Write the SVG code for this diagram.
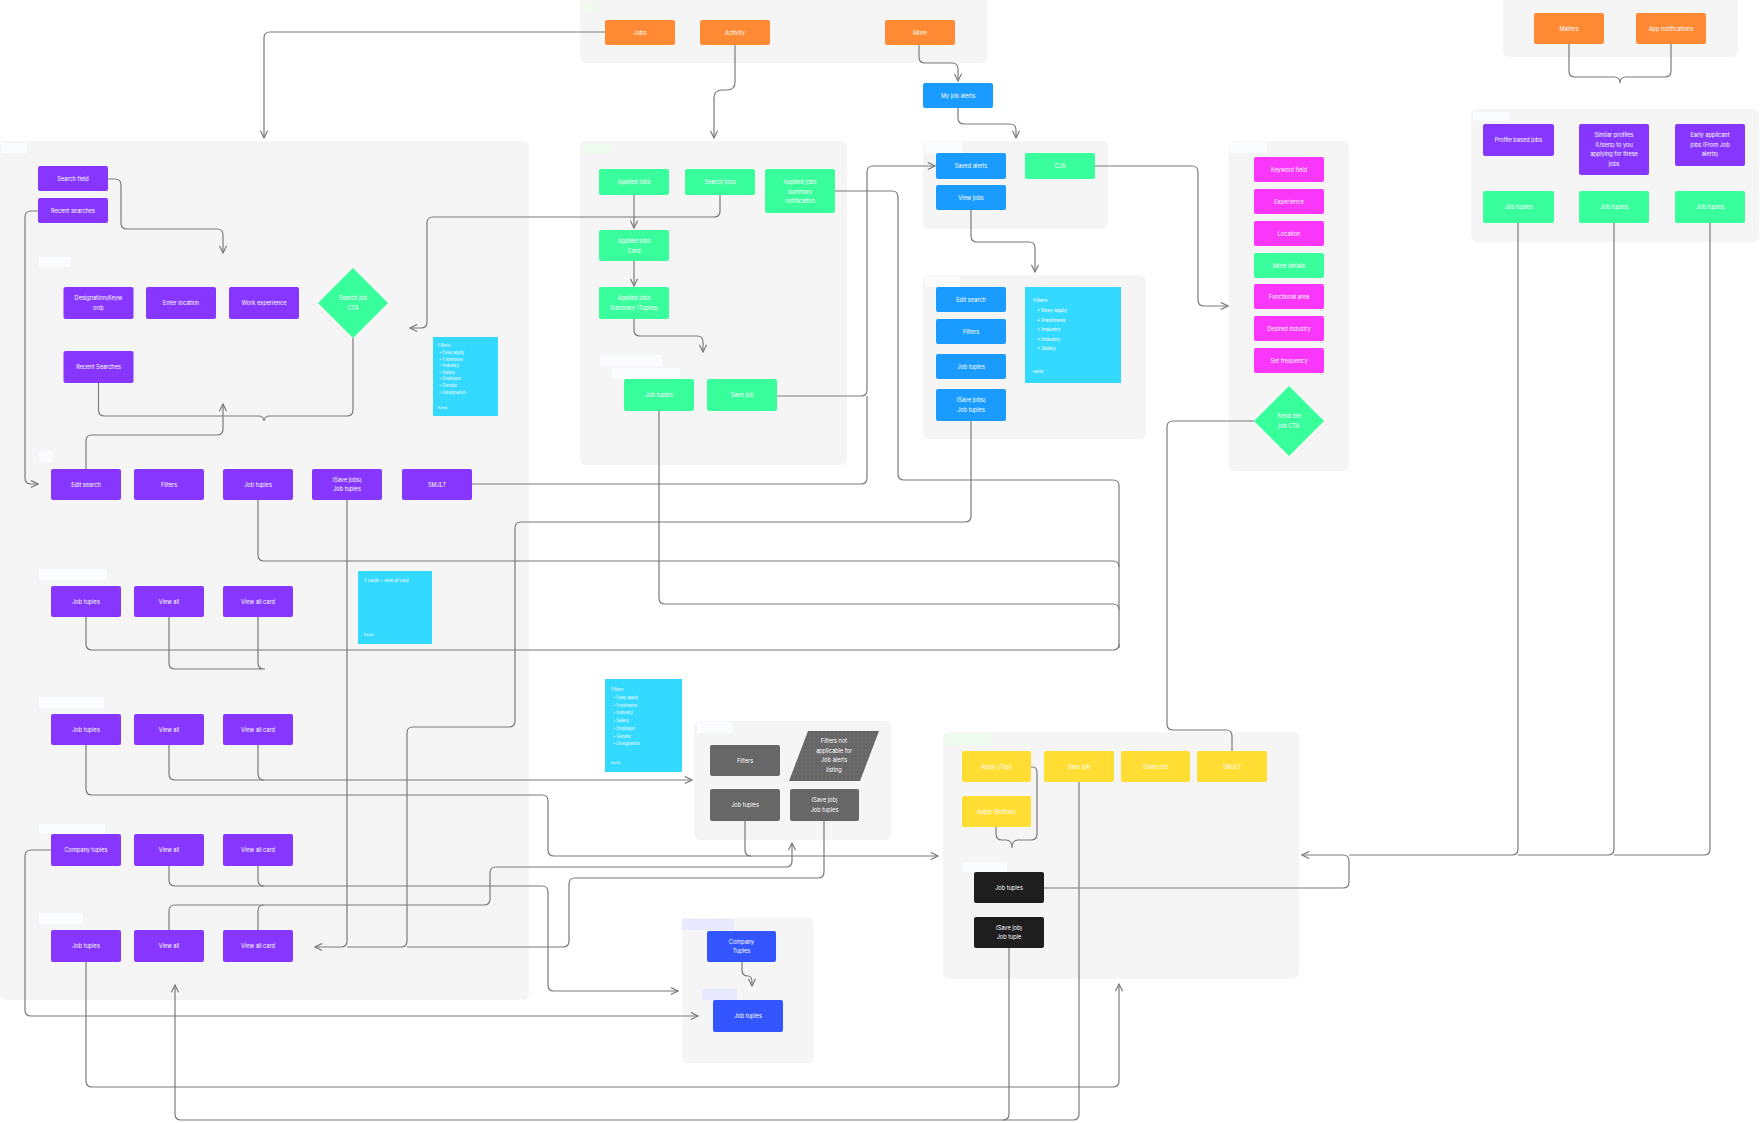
<svg xmlns="http://www.w3.org/2000/svg" width="1760" height="1123" viewBox="0 0 1760 1123">
<defs>
<style>
.p{fill:#f5f5f5}
.tg{fill:#fbfcff}
.n{rx:2}
.t{font-family:Inter,"Liberation Sans",sans-serif;font-size:5.6px;fill:#fff;text-anchor:middle}
.s{font-family:Inter,"Liberation Sans",sans-serif;font-size:4.2px;fill:#fff}
.c{fill:none;stroke:#7a7a7a;stroke-width:1.2}
.pu{fill:#8636ff}.gr{fill:#38ff9c}.or{fill:#ff8a33}.bl{fill:#1a9bff}.pk{fill:#f936f9}.ye{fill:#ffdd33}.bk{fill:#1e1e1e}.gy{fill:#676767}.cb{fill:#3355ff}.cy{fill:#33d9ff}
</style>
<marker id="a" viewBox="0 0 10 10" refX="9" refY="5" markerWidth="9" markerHeight="9" orient="auto-start-reverse" markerUnits="userSpaceOnUse"><path d="M1,1 L9,5 L1,9" fill="none" stroke="#7a7a7a" stroke-width="1.3"/></marker>
<pattern id="dots" width="4" height="4" patternUnits="userSpaceOnUse"><rect width="4" height="4" fill="#676767"/><circle cx="2" cy="2" r="0.5" fill="#8a8a8a"/></pattern>
</defs>
<rect width="1760" height="1123" fill="#fff"/>

<g id="panels">
<rect class="p" x="580" y="-6" width="407" height="69" rx="6"/>
<rect x="583" y="2" width="14" height="10" fill="#eefbee"/>
<rect class="p" x="1503" y="-6" width="235" height="63" rx="6"/>
<rect class="p" x="1471" y="109" width="288" height="133" rx="6"/>
<rect x="1473" y="112" width="36" height="9" class="tg"/>
<rect class="p" x="0" y="141" width="529" height="859" rx="6"/>
<rect x="2" y="143" width="25" height="10" class="tg"/>
<rect x="39" y="257" width="31" height="10" class="tg"/>
<rect x="39" y="451" width="14" height="11" class="tg"/>
<rect x="39" y="569" width="68" height="11" class="tg"/>
<rect x="39" y="697" width="65" height="11" class="tg"/>
<rect x="39" y="824" width="66" height="10" class="tg"/>
<rect x="39" y="913" width="44" height="11" class="tg"/>
<rect class="p" x="580" y="141" width="267" height="324" rx="6"/>
<rect x="583" y="144" width="29" height="10" fill="#eefbee"/>
<rect x="600" y="355" width="62" height="11" class="tg"/>
<rect x="612" y="368" width="68" height="11" class="tg"/>
<rect class="p" x="923" y="141" width="185" height="88" rx="6"/>
<rect x="925" y="142" width="37" height="11" class="tg"/>
<rect class="p" x="923" y="275" width="223" height="164" rx="6"/>
<rect x="925" y="277" width="35" height="10" class="tg"/>
<rect class="p" x="1229" y="141" width="120" height="330" rx="6"/>
<rect x="1230" y="142" width="37" height="11" class="tg"/>
<rect class="p" x="694" y="721" width="197" height="119" rx="6"/>
<rect x="697" y="722" width="36" height="11" class="tg"/>
<rect class="p" x="943" y="732" width="356" height="247" rx="6"/>
<rect x="945" y="733" width="47" height="12" fill="#eefbee"/>
<rect x="963" y="862" width="44" height="10" class="tg"/>
<rect class="p" x="682" y="918" width="132" height="145" rx="6"/>
<rect x="682" y="919" width="52" height="11" fill="#e8e8ff"/>
<rect x="702" y="989" width="35" height="11" fill="#e8e8ff"/>
</g>

<g id="connectors">
<path class="c" d="M605,32 H270 Q264,32 264,38 V138" marker-end="url(#a)"/>
<path class="c" d="M735,45 V82 Q735,90 727,90 H722 Q714,90 714,98 V138" marker-end="url(#a)"/>
<path class="c" d="M919,45 V57 Q919,63 925,63 H952 Q958,63 958,69 V81" marker-end="url(#a)"/>
<path class="c" d="M958,108 V118 Q958,124 964,124 H1010 Q1016,124 1016,130 V138" marker-end="url(#a)"/>
<path class="c" d="M108,179 H115 Q121,179 121,185 V223 Q121,229 127,229 H217 Q223,229 223,235 V253" marker-end="url(#a)"/>
<path class="c" d="M38,211 H31 Q25,211 25,217 V478 Q25,484 31,484 H38" marker-end="url(#a)"/>
<path class="c" d="M98.5,383 V410 Q98.5,416 104.5,416 H258 Q264,416 264,421 M353,338 V410 Q353,416 347,416 H270 Q264,416 264,421"/>
<path class="c" d="M86,469 V441 Q86,435 92,435 H217 Q223,435 223,429 V404" marker-end="url(#a)"/>
<path class="c" d="M720,195 V211 Q720,217 714,217 H433 Q427,217 427,223 V322 Q427,328 421,328 H410" marker-end="url(#a)"/>
<path class="c" d="M634,195 V228" marker-end="url(#a)"/>
<path class="c" d="M634,261 V286" marker-end="url(#a)"/>
<path class="c" d="M634,319 V330 Q634,336 640,336 H697 Q703,336 703,342 V352" marker-end="url(#a)"/>
<path class="c" d="M835,191 H892 Q898,191 898,197 V474 Q898,480 904,480 H1113 Q1119,480 1119,486 V648"/>
<path class="c" d="M777,396 H861 Q867,396 867,390 V172 Q867,166 873,166 H935" marker-end="url(#a)"/>
<path class="c" d="M471,484 H861 Q867,484 867,478 V396"/>
<path class="c" d="M971,210 V236 Q971,242 977,242 H1029 Q1035,242 1035,248 V272" marker-end="url(#a)"/>
<path class="c" d="M1095,166 H1192 Q1198,166 1198,172 V300 Q1198,306 1204,306 H1228" marker-end="url(#a)"/>
<path class="c" d="M1254,421 H1173 Q1167,421 1167,427 V724 Q1167,730 1173,730 H1226 Q1232,730 1232,736 V751"/>
<path class="c" d="M258,500 V555 Q258,561 264,561 H1113 Q1119,561 1119,567"/>
<path class="c" d="M659,411 V598 Q659,604 665,604 H1113 Q1119,604 1119,610"/>
<path class="c" d="M86,617 V644 Q86,650 92,650 H1113 Q1119,650 1119,644"/>
<path class="c" d="M347,500 V941 Q347,947 341,947 H315" marker-end="url(#a)"/>
<path class="c" d="M971,421 V516 Q971,522 965,522 H521 Q515,522 515,528 V721 Q515,727 509,727 H413 Q407,727 407,733 V941 Q407,947 401,947 H347"/>
<path class="c" d="M824,821 V872 Q824,878 818,878 H575 Q569,878 569,884 V941 Q569,947 563,947 H407"/>
<path class="c" d="M169,617 V663 Q169,669 175,669 H265 M258,617 V663 Q258,669 264,669 H265"/>
<path class="c" d="M86,745 V789 Q86,795 92,795 H542 Q548,795 548,801 V850 Q548,856 554,856 H938" marker-end="url(#a)"/>
<path class="c" d="M745,821 V850 Q745,856 751,856"/>
<path class="c" d="M169,745 V774 Q169,780 175,780 H692" marker-end="url(#a)"/>
<path class="c" d="M258,745 V774 Q258,780 264,780"/>
<path class="c" d="M51,850 H31 Q25,850 25,856 V1010 Q25,1016 31,1016 H698" marker-end="url(#a)"/>
<path class="c" d="M169,866 V880 Q169,886 175,886 H542 Q548,886 548,892 V985 Q548,991 554,991 H678" marker-end="url(#a)"/>
<path class="c" d="M258,866 V880 Q258,886 264,886"/>
<path class="c" d="M169,930 V911 Q169,905 175,905 H484 Q490,905 490,899 V873 Q490,867 496,867 H786 Q792,867 792,861 V843" marker-end="url(#a)"/>
<path class="c" d="M258,930 V911 Q258,905 264,905"/>
<path class="c" d="M86,962 V1081 Q86,1087 92,1087 H1113 Q1119,1087 1119,1081 V984" marker-end="url(#a)"/>
<path class="c" d="M1079,782 V1114 Q1079,1120 1073,1120 H181 Q175,1120 175,1114 V985" marker-end="url(#a)"/>
<path class="c" d="M1009,948 V1114 Q1009,1120 1003,1120"/>
<path class="c" d="M1044,888 H1343 Q1349,888 1349,882 V861 Q1349,855 1343,855 H1302" marker-end="url(#a)"/>
<path class="c" d="M1518,223 V849 Q1518,855 1512,855 H1349"/>
<path class="c" d="M1614,223 V849 Q1614,855 1608,855 H1518"/>
<path class="c" d="M1710,223 V849 Q1710,855 1704,855 H1614"/>
<path class="c" d="M1569,44 V71 Q1569,77 1575,77 H1614 Q1620,77 1620,83 M1671,44 V71 Q1671,77 1665,77 H1626 Q1620,77 1620,83"/>
<path class="c" d="M742,962 V970 Q742,976 748,976 Q752,976 752,982 V986" marker-end="url(#a)"/>
<path class="c" d="M1031,767 H1033 Q1037,767 1037,773 V834 Q1037,840 1031,840 H1018 Q1012,840 1012,848 M996,827 V834 Q996,840 1002,840 H1006 Q1012,840 1012,848"/>
</g>

<g id="n-jobs"><rect class="n or" x="605" y="20" width="70" height="25"/><text class="t" x="640" y="34.5">Jobs</text></g>
<g id="n-activity"><rect class="n or" x="700" y="20" width="70" height="25"/><text class="t" x="735" y="34.5">Activity</text></g>
<g id="n-more"><rect class="n or" x="885" y="20" width="70" height="25"/><text class="t" x="920" y="34.5">More</text></g>
<g id="n-mailers"><rect class="n or" x="1534" y="13" width="70" height="31"/><text class="t" x="1569" y="30.5">Mailers</text></g>
<g id="n-appnotif"><rect class="n or" x="1636" y="13" width="70" height="31"/><text class="t" x="1671" y="30.5">App notifications</text></g>
<g id="n-myjobalerts"><rect class="n bl" x="923" y="83" width="70" height="25"/><text class="t" x="958" y="97.5">My job alerts</text></g>

<g id="n-searchfield"><rect class="n pu" x="38" y="166" width="70" height="25"/><text class="t" x="73" y="180.5">Search field</text></g>
<g id="n-recentsearches"><rect class="n pu" x="38" y="198" width="70" height="25"/><text class="t" x="73" y="212.5">Recent searches</text></g>
<g id="n-designation"><rect class="n pu" x="63.5" y="287" width="70" height="32"/><text class="t" x="98.5" y="300"><tspan x="98.5">Designation(Keyw</tspan><tspan x="98.5" dy="9.5">ord)</tspan></text></g>
<g id="n-enterlocation"><rect class="n pu" x="146" y="287" width="70" height="32"/><text class="t" x="181" y="305">Enter location</text></g>
<g id="n-workexp"><rect class="n pu" x="229" y="287" width="70" height="32"/><text class="t" x="264" y="305">Work experience</text></g>
<g id="n-searchcta"><path class="gr" d="M353,268 L388,303 L353,338 L318,303 Z"/><text class="t" x="353" y="300"><tspan x="353">Search job</tspan><tspan x="353" dy="9.5">CTA</tspan></text></g>
<g id="n-recentsearches2"><rect class="n pu" x="63.5" y="351" width="70" height="32"/><text class="t" x="98.5" y="369">Recent Searches</text></g>
<g id="n-note1"><rect class="cy" x="433" y="337" width="65" height="79"/><text class="s" x="438" y="347">Filters</text><text class="s" x="439" y="354"><tspan x="439">•  Easy apply</tspan><tspan x="439" dy="6.6">•  Freshness</tspan><tspan x="439" dy="6.6">•  Industry</tspan><tspan x="439" dy="6.6">•  Salary</tspan><tspan x="439" dy="6.6">•  Employer</tspan><tspan x="439" dy="6.6">•  Gender</tspan><tspan x="439" dy="6.6">•  Designation</tspan></text><text class="s" x="438" y="409" style="font-size:3.4px">Kartik</text></g>

<g id="n-editsearch"><rect class="n pu" x="51" y="469" width="70" height="31"/><text class="t" x="86" y="486.5">Edit search</text></g>
<g id="n-filters"><rect class="n pu" x="134" y="469" width="70" height="31"/><text class="t" x="169" y="486.5">Filters</text></g>
<g id="n-jobtuples1"><rect class="n pu" x="223" y="469" width="70" height="31"/><text class="t" x="258" y="486.5">Job tuples</text></g>
<g id="n-savejobs1"><rect class="n pu" x="312" y="469" width="70" height="31"/><text class="t" x="347" y="481.5"><tspan x="347">(Save jobs)</tspan><tspan x="347" dy="9.5">Job tuples</tspan></text></g>
<g id="n-smjlt1"><rect class="n pu" x="402" y="469" width="70" height="31"/><text class="t" x="437" y="486.5">SMJLT</text></g>

<g id="n-r2-jt"><rect class="n pu" x="51" y="586" width="70" height="31"/><text class="t" x="86" y="603.5">Job tuples</text></g>
<g id="n-r2-va"><rect class="n pu" x="134" y="586" width="70" height="31"/><text class="t" x="169" y="603.5">View all</text></g>
<g id="n-r2-vac"><rect class="n pu" x="223" y="586" width="70" height="31"/><text class="t" x="258" y="603.5">View all card</text></g>
<g id="n-note2"><rect class="cy" x="358" y="571" width="74" height="73"/><text class="s" x="364" y="582">5 cards + view all card</text><text class="s" x="364" y="636" style="font-size:3.4px">Kartik</text></g>

<g id="n-r3-jt"><rect class="n pu" x="51" y="714" width="70" height="31"/><text class="t" x="86" y="731.5">Job tuples</text></g>
<g id="n-r3-va"><rect class="n pu" x="134" y="714" width="70" height="31"/><text class="t" x="169" y="731.5">View all</text></g>
<g id="n-r3-vac"><rect class="n pu" x="223" y="714" width="70" height="31"/><text class="t" x="258" y="731.5">View all card</text></g>

<g id="n-r4-ct"><rect class="n pu" x="51" y="834" width="70" height="32"/><text class="t" x="86" y="852">Company tuples</text></g>
<g id="n-r4-va"><rect class="n pu" x="134" y="834" width="70" height="32"/><text class="t" x="169" y="852">View all</text></g>
<g id="n-r4-vac"><rect class="n pu" x="223" y="834" width="70" height="32"/><text class="t" x="258" y="852">View all card</text></g>

<g id="n-r5-jt"><rect class="n pu" x="51" y="930" width="70" height="32"/><text class="t" x="86" y="948">Job tuples</text></g>
<g id="n-r5-va"><rect class="n pu" x="134" y="930" width="70" height="32"/><text class="t" x="169" y="948">View all</text></g>
<g id="n-r5-vac"><rect class="n pu" x="223" y="930" width="70" height="32"/><text class="t" x="258" y="948">View all card</text></g>

<g id="n-appliedjobs"><rect class="n gr" x="599" y="169" width="70" height="26"/><text class="t" x="634" y="184">Applied jobs</text></g>
<g id="n-searchjobs"><rect class="n gr" x="685" y="169" width="70" height="26"/><text class="t" x="720" y="184">Search jobs</text></g>
<g id="n-summarynotif"><rect class="n gr" x="765" y="169" width="70" height="44"/><text class="t" x="800" y="184"><tspan x="800">Applied jobs</tspan><tspan x="800" dy="9.5">summary</tspan><tspan x="800" dy="9.5">notification</tspan></text></g>
<g id="n-appliedcard"><rect class="n gr" x="599" y="230" width="70" height="31"/><text class="t" x="634" y="243"><tspan x="634">Applied jobs</tspan><tspan x="634" dy="9.5">Card</tspan></text></g>
<g id="n-appliedsummary"><rect class="n gr" x="599" y="287" width="70" height="32"/><text class="t" x="634" y="300"><tspan x="634">Applied jobs</tspan><tspan x="634" dy="9.5">Summary (Tuples)</tspan></text></g>
<g id="n-gjobtuples"><rect class="n gr" x="624" y="379" width="70" height="32"/><text class="t" x="659" y="397">Job tuples</text></g>
<g id="n-gsavejob"><rect class="n gr" x="707" y="379" width="70" height="32"/><text class="t" x="742" y="397">Save job</text></g>

<g id="n-savedalerts"><rect class="n bl" x="936" y="153" width="70" height="26"/><text class="t" x="971" y="168">Saved alerts</text></g>
<g id="n-cja"><rect class="n gr" x="1025" y="153" width="70" height="26"/><text class="t" x="1060" y="168">CJA</text></g>
<g id="n-viewjobs"><rect class="n bl" x="936" y="185" width="70" height="25"/><text class="t" x="971" y="199.5">View jobs</text></g>
<g id="n-beditsearch"><rect class="n bl" x="936" y="287" width="70" height="25"/><text class="t" x="971" y="301.5">Edit search</text></g>
<g id="n-bfilters"><rect class="n bl" x="936" y="319" width="70" height="25"/><text class="t" x="971" y="333.5">Filters</text></g>
<g id="n-bjobtuples"><rect class="n bl" x="936" y="354" width="70" height="25"/><text class="t" x="971" y="368.5">Job tuples</text></g>
<g id="n-bsavejobs"><rect class="n bl" x="936" y="389" width="70" height="32"/><text class="t" x="971" y="402"><tspan x="971">(Save jobs)</tspan><tspan x="971" dy="9.5">Job tuples</tspan></text></g>
<g id="n-note3"><rect class="cy" x="1025" y="287" width="96" height="96"/><text class="s" x="1033" y="302" style="font-size:5px">Filters</text><text class="s" x="1037" y="312" style="font-size:5px"><tspan x="1037">•  Easy apply</tspan><tspan x="1037" dy="9.6">•  Freshness</tspan><tspan x="1037" dy="9.6">•  Industry</tspan><tspan x="1037" dy="9.6">•  Industry</tspan><tspan x="1037" dy="9.6">•  Salary</tspan></text><text class="s" x="1033" y="373" style="font-size:3.8px">Kartik</text></g>

<g id="n-keyword"><rect class="n pk" x="1254" y="157" width="70" height="25"/><text class="t" x="1289" y="171.5">Keyword field</text></g>
<g id="n-experience"><rect class="n pk" x="1254" y="189" width="70" height="25"/><text class="t" x="1289" y="203.5">Experience</text></g>
<g id="n-location"><rect class="n pk" x="1254" y="221" width="70" height="25"/><text class="t" x="1289" y="235.5">Location</text></g>
<g id="n-moredetails"><rect class="n gr" x="1254" y="253" width="70" height="25"/><text class="t" x="1289" y="267.5">More details</text></g>
<g id="n-functional"><rect class="n pk" x="1254" y="284" width="70" height="25"/><text class="t" x="1289" y="298.5">Functional area</text></g>
<g id="n-desired"><rect class="n pk" x="1254" y="316" width="70" height="25"/><text class="t" x="1289" y="330.5">Desired industry</text></g>
<g id="n-setfreq"><rect class="n pk" x="1254" y="348" width="70" height="25"/><text class="t" x="1289" y="362.5">Set frequency</text></g>
<g id="n-sendme"><path class="gr" d="M1289,386 L1324,421 L1289,456 L1254,421 Z"/><text class="t" x="1289" y="418"><tspan x="1289">Send me</tspan><tspan x="1289" dy="9.5">job CTA</tspan></text></g>

<g id="n-profilebased"><rect class="n pu" x="1483" y="124" width="71" height="32"/><text class="t" x="1518.5" y="142">Profile based jobs</text></g>
<g id="n-similar"><rect class="n pu" x="1579" y="124" width="70" height="51"/><text class="t" x="1614" y="137"><tspan x="1614">Similar profiles</tspan><tspan x="1614" dy="9.5">(Users) to you</tspan><tspan x="1614" dy="9.5">applying for these</tspan><tspan x="1614" dy="9.5">jobs</tspan></text></g>
<g id="n-early"><rect class="n pu" x="1675" y="124" width="70" height="42"/><text class="t" x="1710" y="137"><tspan x="1710">Early applicant</tspan><tspan x="1710" dy="9.5">jobs (From Job</tspan><tspan x="1710" dy="9.5">alerts)</tspan></text></g>
<g id="n-rjt1"><rect class="n gr" x="1483" y="191" width="71" height="32"/><text class="t" x="1518.5" y="209">Job tuples</text></g>
<g id="n-rjt2"><rect class="n gr" x="1579" y="191" width="70" height="32"/><text class="t" x="1614" y="209">Job tuples</text></g>
<g id="n-rjt3"><rect class="n gr" x="1675" y="191" width="70" height="32"/><text class="t" x="1710" y="209">Job tuples</text></g>

<g id="n-note4"><rect class="cy" x="605" y="679" width="77" height="93"/><text class="s" x="611" y="691">Filters</text><text class="s" x="613" y="699"><tspan x="613">•  Easy apply</tspan><tspan x="613" dy="7.7">•  Freshness</tspan><tspan x="613" dy="7.7">•  Industry</tspan><tspan x="613" dy="7.7">•  Salary</tspan><tspan x="613" dy="7.7">•  Employer</tspan><tspan x="613" dy="7.7">•  Gender</tspan><tspan x="613" dy="7.7">•  Designation</tspan></text><text class="s" x="611" y="764" style="font-size:3.4px">Kartik</text></g>
<g id="n-gyfilters"><rect class="n gy" x="710" y="745" width="70" height="31"/><text class="t" x="745" y="762.5">Filters</text></g>
<g id="n-notapplicable"><path d="M808,731 L879,731 L860,781 L789,781 Z" fill="url(#dots)"/><text class="t" x="834" y="743"><tspan x="834">Filters not</tspan><tspan x="834" dy="9.5">applicable for</tspan><tspan x="834" dy="9.5">Job alerts</tspan><tspan x="834" dy="9.5">listing</tspan></text></g>
<g id="n-gyjobtuples"><rect class="n gy" x="710" y="789" width="70" height="32"/><text class="t" x="745" y="807">Job tuples</text></g>
<g id="n-gysavejob"><rect class="n gy" x="790" y="789" width="69" height="32"/><text class="t" x="824.5" y="802"><tspan x="824.5">(Save job)</tspan><tspan x="824.5" dy="9.5">Job tuples</tspan></text></g>

<g id="n-applytop"><rect class="n ye" x="962" y="751" width="69" height="31"/><text class="t" x="996.5" y="768.5">Apply (Top)</text></g>
<g id="n-ysavejob"><rect class="n ye" x="1044" y="751" width="70" height="31"/><text class="t" x="1079" y="768.5">Save job</text></g>
<g id="n-sharejob"><rect class="n ye" x="1121" y="751" width="69" height="31"/><text class="t" x="1155.5" y="768.5">Share job</text></g>
<g id="n-ysmjlt"><rect class="n ye" x="1197" y="751" width="70" height="31"/><text class="t" x="1232" y="768.5">SMJLT</text></g>
<g id="n-applybottom"><rect class="n ye" x="962" y="796" width="69" height="31"/><text class="t" x="996.5" y="813.5">Apply (Bottom)</text></g>
<g id="n-kjobtuples"><rect class="n bk" x="974" y="872" width="70" height="31"/><text class="t" x="1009" y="889.5">Job tuples</text></g>
<g id="n-ksavejob"><rect class="n bk" x="974" y="917" width="70" height="31"/><text class="t" x="1009" y="929.5"><tspan x="1009">(Save job)</tspan><tspan x="1009" dy="9.5">Job tuple</tspan></text></g>

<g id="n-companytuples"><rect class="n cb" x="707" y="931" width="69" height="31"/><text class="t" x="741.5" y="943.5"><tspan x="741.5">Company</tspan><tspan x="741.5" dy="9.5">Tuples</tspan></text></g>
<g id="n-cjobtuples"><rect class="n cb" x="713" y="1000" width="70" height="32"/><text class="t" x="748" y="1018">Job tuples</text></g>
</svg>
